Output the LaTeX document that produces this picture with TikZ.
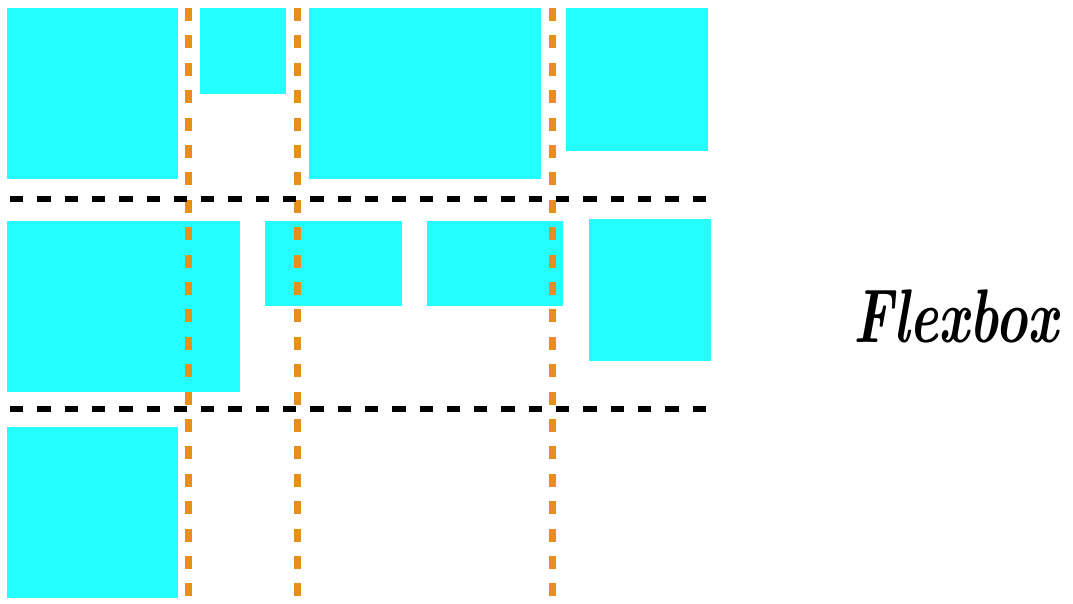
\documentclass[tikz,border=0pt]{standalone}
\usepackage{xcolor}
\usepackage{tikz}
\usetikzlibrary{positioning}

\definecolor{flexcyan}{RGB}{35,255,255}
\definecolor{flexorange}{RGB}{232,142,30}

\begin{document}
\begin{tikzpicture}[
      x=1pt, y=-1pt,
      item/.style={fill=flexcyan, inner sep=0pt, outer sep=0pt, anchor=north west},
      colline/.style={draw=flexorange, line width=7pt, dash pattern=on 13pt off 14.4pt},
      rowline/.style={draw=black, line width=6pt, dash pattern=on 13.3pt off 14pt},
      title/.style={font=\fontsize{76}{76}\selectfont\bfseries\itshape, inner sep=0pt, anchor=base}
    ]
    \fill[white] (0,0) rectangle (1073,604);
    \useasboundingbox (0,0) rectangle (1073,604);

    % first line
    \node[item, minimum width=171pt, minimum height=171pt] (r1a) at (7,8) {};
    \node[item, minimum width=86pt,  minimum height=86pt]  (r1b) at (200,8) {};
    \node[item, minimum width=232pt, minimum height=171pt] (r1c) at (309,8) {};
    \node[item, minimum width=142pt, minimum height=143pt] (r1d) at (566,8) {};
    % second line
    \node[item, minimum width=233pt, minimum height=171pt] (r2a) at (7,221) {};
    \node[item, minimum width=137pt, minimum height=85pt]  (r2b) at (265,221) {};
    \node[item, minimum width=136pt, minimum height=85pt]  (r2c) at (427,221) {};
    \node[item, minimum width=122pt, minimum height=142pt] (r2d) at (589,219) {};
    % third line
    \node[item, minimum width=171pt, minimum height=171pt] (r3a) at (7,427) {};

    \foreach \x in {188,297,552}
      \draw[colline] (\x,8) -- (\x,604);
    \foreach \y in {199,409}
      \draw[rowline] (10,\y) -- (707,\y);

    \node[title] (flexbox) at (956,342) {\scalebox{0.72}[1]{Flexbox}};
  \end{tikzpicture}
\end{document}
